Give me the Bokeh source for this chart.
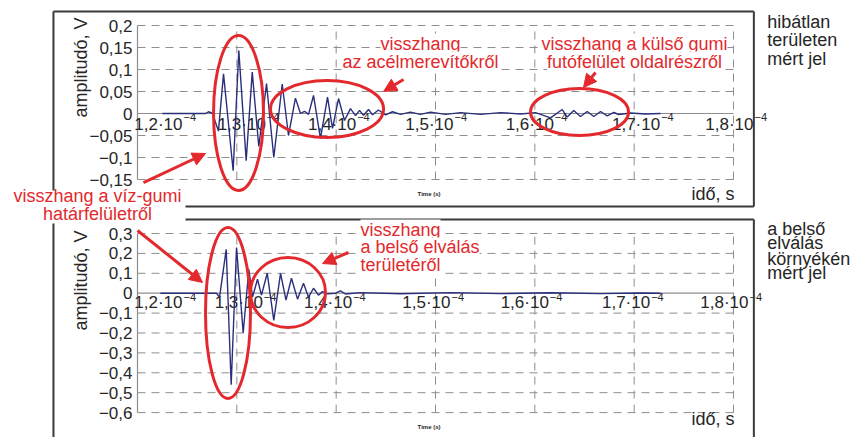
import numpy as np
from bokeh.plotting import figure
from bokeh.models import Range1d, Arrow, NormalHead
from bokeh.core.properties import value
from bokeh.embed import file_html
from bokeh.resources import INLINE

# ---------------- data (time in microseconds, amplitude in volts) ----------------
top_t_us = [122.5, 126.85, 127.15, 127.55, 128.15, 128.66, 129.63, 130.2, 130.94, 131.55,
            132.21, 132.99, 133.72, 134.57, 135.2, 135.9, 136.41, 136.81, 137.22, 137.72,
            138.42, 139.13, 139.63, 140.24, 140.84, 141.44, 141.95, 142.35, 142.75, 143.26,
            143.66, 144.26, 144.97, 145.67, 146.48, 147.48, 148.49, 149.5, 151.01, 152.52,
            154.53, 156.55, 158.56, 160.07, 161.58, 162.76, 163.26, 163.92, 164.6, 165.27,
            165.94, 166.61, 167.29, 167.95, 168.45, 169.63, 171.14, 172.65]
top_amp_v = [0, 0, 0.004, 0, -0.04, 0.09, -0.13, 0.143, -0.107, 0.094,
             -0.075, 0.068, -0.10, 0.067, -0.05, 0.035, 0.0, 0.005, -0.002, 0.041,
             -0.057, 0.037, -0.034, 0.034, -0.016, 0.011, -0.005, 0.007, -0.004, 0.009,
             -0.003, 0.008, -0.003, 0.004, -0.002, 0.003, -0.002, 0.003, -0.002, 0.002,
             -0.002, 0.002, -0.001, 0.002, -0.0098, 0.009, -0.008, 0.0068, -0.0068, 0.0045,
             -0.0068, 0.0045, -0.0053, 0.0023, -0.0023, 0.001, -0.001, 0]

bot_t_us = [122.3, 127.95, 128.26, 128.93, 129.43, 129.97, 130.64, 131.21, 131.58, 132.08,
            132.48, 133.06, 133.72, 134.4, 134.95, 135.5, 136.11, 136.71, 137.22, 137.72,
            138.22, 138.62, 139.13, 139.93, 140.44, 140.94, 142.45, 146.48, 151.51, 156.55,
            161.58, 166.61, 170.64, 172.65]
bot_amp_v = [0, 0, -0.02, 0.22, -0.46, 0.23, -0.2, 0.12, -0.02, 0.07,
             -0.01, 0.1, -0.137, 0.1, -0.035, 0.075, -0.03, 0.05, -0.02, 0.025,
             -0.01, 0.008, -0.003, 0.0, 0.012, -0.004, 0.003, -0.003, 0.003, -0.002,
             0.002, -0.002, 0.001, 0]

x_ticks_us = [120, 130, 140, 150, 160, 170, 180]
x_tick_labels = ["1,2·10", "1,3·10", "1,4·10", "1,5·10", "1,6·10", "1,7·10", "1,8·10"]
x_tick_exp = "−4"

top_y_ticks = [0.2, 0.15, 0.1, 0.05, 0.0, -0.05, -0.1, -0.15]
top_y_labels = ["0,2", "0,15", "0,1", "0,05", "0", "−0,05", "−0,1", "−0,15"]
bot_y_ticks = [0.3, 0.2, 0.1, 0.0, -0.1, -0.2, -0.3, -0.4, -0.5, -0.6]
bot_y_labels = ["0,3", "0,2", "0,1", "0", "−0,1", "−0,2", "−0,3", "−0,4", "−0,5", "−0,6"]

# ---------------- layout / scales ----------------
W, H = 858, 437
PX_US = 596.0 / 60.0          # pixels per microsecond
X0 = 120 - 137 / PX_US
X1 = X0 + W / PX_US
PX_V_T, Z_T = 440.0, 113.0    # top panel: px per volt, zero line (canvas px)
PX_V_B, Z_B = 199.0, 292.7    # bottom panel

p = figure(width=W, height=H, x_range=Range1d(X0, X1),
           y_range=Range1d(-(H - Z_T) / PX_V_T, Z_T / PX_V_T),
           x_axis_type=None, y_axis_type=None, toolbar_location=None,
           output_backend="svg", min_border=0, min_border_left=0, min_border_right=0,
           min_border_top=0, min_border_bottom=0, outline_line_color=None)
p.extra_y_ranges = {"bot": Range1d(-(H - Z_B) / PX_V_B, Z_B / PX_V_B)}
p.background_fill_color = "white"
p.border_fill_color = "white"

FONT = value("Liberation Sans")
GRID = "#8e8e8e"
RED = "#e3292d"
NAVY = "#2a2f7c"
FRAME = "#3a3a3a"
DARK = "#262626"


def panel(yticks, ylabels, rng, lab_offsets, lab_y, exp_y):
    kw = {} if rng is None else {"y_range_name": rng}
    ymin, ymax = min(yticks), max(yticks)
    xmin, xmax = x_ticks_us[0], x_ticks_us[-1]
    hy = [y for y in yticks if y != 0]
    # dashed horizontal grid
    p.segment(x0=[xmin] * len(hy), y0=hy, x1=[xmax] * len(hy), y1=hy,
              line_color=GRID, line_width=1, line_dash="8 6", **kw)
    # dashed vertical grid
    vx = x_ticks_us[1:]
    p.segment(x0=vx, y0=[ymin] * len(vx), x1=vx, y1=[ymax] * len(vx),
              line_color=GRID, line_width=1, line_dash="8 6", **kw)
    # solid axis lines
    p.segment(x0=[xmin, xmin], y0=[0, ymin], x1=[xmax, xmin], y1=[0, ymax],
              line_color=GRID, line_width=1.2, **kw)
    # y tick labels
    p.text(x=[xmin] * len(yticks), y=yticks, text=ylabels, x_offset=-5,
           text_align="right", text_baseline="middle", text_font=FONT,
           text_font_size="17px", text_color=DARK, **kw)
    # x tick labels
    p.text(x=x_ticks_us, y=[lab_y] * len(x_ticks_us), text=x_tick_labels,
           x_offset=lab_offsets, text_align="right", text_baseline="middle",
           text_font=FONT, text_font_size="17px", text_color=DARK, **kw)
    p.text(x=x_ticks_us, y=[exp_y] * len(x_ticks_us), text=[x_tick_exp] * len(x_ticks_us),
           x_offset=[o + 1 for o in lab_offsets], text_align="left", text_baseline="middle",
           text_font=FONT, text_font_size="11px", text_color=DARK, **kw)


panel(top_y_ticks, top_y_labels, None, [45, 29, 20, 18, 19, 26, 20], -0.025, -0.009)
panel(bot_y_ticks, bot_y_labels, "bot", [45, 26, 16, 15, 14, 16, 15], -0.049, -0.017)

# waveforms
p.line(top_t_us, top_amp_v, line_color=NAVY, line_width=1.4)
p.line(bot_t_us, bot_amp_v, line_color=NAVY, line_width=1.4, y_range_name="bot")

# panel frames
p.segment(x0=[111.54, 111.54, 182.05, 124.83], y0=[0.2318, 0.2318, 0.2318, -0.2114],
          x1=[111.54, 182.05, 182.05, 182.05], y1=[-0.175, 0.2318, -0.2114, -0.2114],
          line_color=FRAME, line_width=2)
p.segment(x0=[124.83, 111.54, 182.05], y0=[0.370, 0.350, 0.370],
          x1=[182.05, 111.54, 182.05], y1=[0.370, -0.75, -0.75],
          line_color=FRAME, line_width=2, y_range_name="bot")

# axis titles and side notes
p.text(x=[114.3], y=[0.1045], text=["amplitudó, V"], angle=np.pi / 2, text_align="center",
       text_baseline="middle", text_font=FONT, text_font_size="18px", text_color=DARK)
p.text(x=[114.3], y=[0.064], text=["amplitudó, V"], angle=np.pi / 2, text_align="center",
       text_baseline="middle", text_font=FONT, text_font_size="18px", text_color=DARK,
       y_range_name="bot")
p.text(x=[180.1], y=[-0.182], text=["idő, s"], text_align="right", text_baseline="middle",
       text_font=FONT, text_font_size="18px", text_color=DARK)
p.text(x=[180.1], y=[-0.63], text=["idő, s"], text_align="right", text_baseline="middle",
       text_font=FONT, text_font_size="18px", text_color=DARK, y_range_name="bot")
p.text(x=[148.2], y=[-0.182], text=["Time (s)"], text_align="left", text_baseline="middle",
       text_font=FONT, text_font_size="6px", text_font_style="bold", text_color=DARK)
p.text(x=[148.2], y=[-0.672], text=["Time (s)"], text_align="left", text_baseline="middle",
       text_font=FONT, text_font_size="6px", text_font_style="bold", text_color=DARK,
       y_range_name="bot")
p.text(x=[183.4] * 3, y=[0.209, 0.166, 0.125], text=["hibátlan", "területen", "mért jel"],
       text_align="left", text_baseline="middle", text_font=FONT, text_font_size="18px",
       text_color=DARK)
p.text(x=[183.4] * 4, y=[0.325, 0.25, 0.174, 0.099],
       text=["a belső", "elválás", "környékén", "mért jel"],
       text_align="left", text_baseline="middle", text_font=FONT, text_font_size="18px",
       text_color=DARK, y_range_name="bot")

# red annotations: ellipses
p.ellipse(x=[130.17, 139.08, 164.5], y=[0.001, 0.0102, 0.0034], width=[5.03, 11.38, 9.87],
          height=[0.352, 0.1295, 0.107], fill_color=None, line_color=RED, line_width=3)
p.ellipse(x=[129.11, 135.15], y=[-0.0995, 0.0035], width=[4.53, 7.55], height=[0.859, 0.352],
          fill_color=None, line_color=RED, line_width=3, y_range_name="bot")

# red annotations: arrows
for xs, ys, xe, ye, rng in [(146.78, 0.0773, 144.77, 0.05, None),
                            (166.11, 0.0932, 164.9, 0.0591, None),
                            (120.6, -0.157, 126.85, -0.0909, None),
                            (120.0, 0.315, 126.54, 0.0538, "bot"),
                            (141.24, 0.2045, 138.62, 0.149, "bot")]:
    kw = {} if rng is None else {"y_range_name": rng}
    p.add_layout(Arrow(end=NormalHead(size=13, fill_color=RED, line_color=RED),
                       x_start=xs, y_start=ys, x_end=xe, y_end=ye,
                       line_color=RED, line_width=3, **kw))

# red annotations: texts
p.text(x=[148.49, 148.49, 170.03, 170.03], y=[0.159, 0.118, 0.159, 0.118],
       text=["visszhang", "az acélmerevítőkről", "visszhang a külső gumi",
             "futófelület oldalrészről"],
       text_align="center", text_baseline="middle", text_font=FONT, text_font_size="18px",
       text_color=RED, background_fill_color="white")
p.text(x=[115.97, 115.97], y=[-0.1886, -0.2295],
       text=["visszhang a víz-gumi", "határfelületről"],
       text_align="center", text_baseline="middle", text_font=FONT, text_font_size="18px",
       text_color=RED)
p.text(x=[142.45] * 3, y=[0.320, 0.230, 0.144],
       text=["visszhang", "a belső elválás", "területéről"],
       text_align="left", text_baseline="middle", text_font=FONT, text_font_size="18px",
       text_color=RED, background_fill_color="white", y_range_name="bot")

open("out.html", "w").write(file_html(p, INLINE))
